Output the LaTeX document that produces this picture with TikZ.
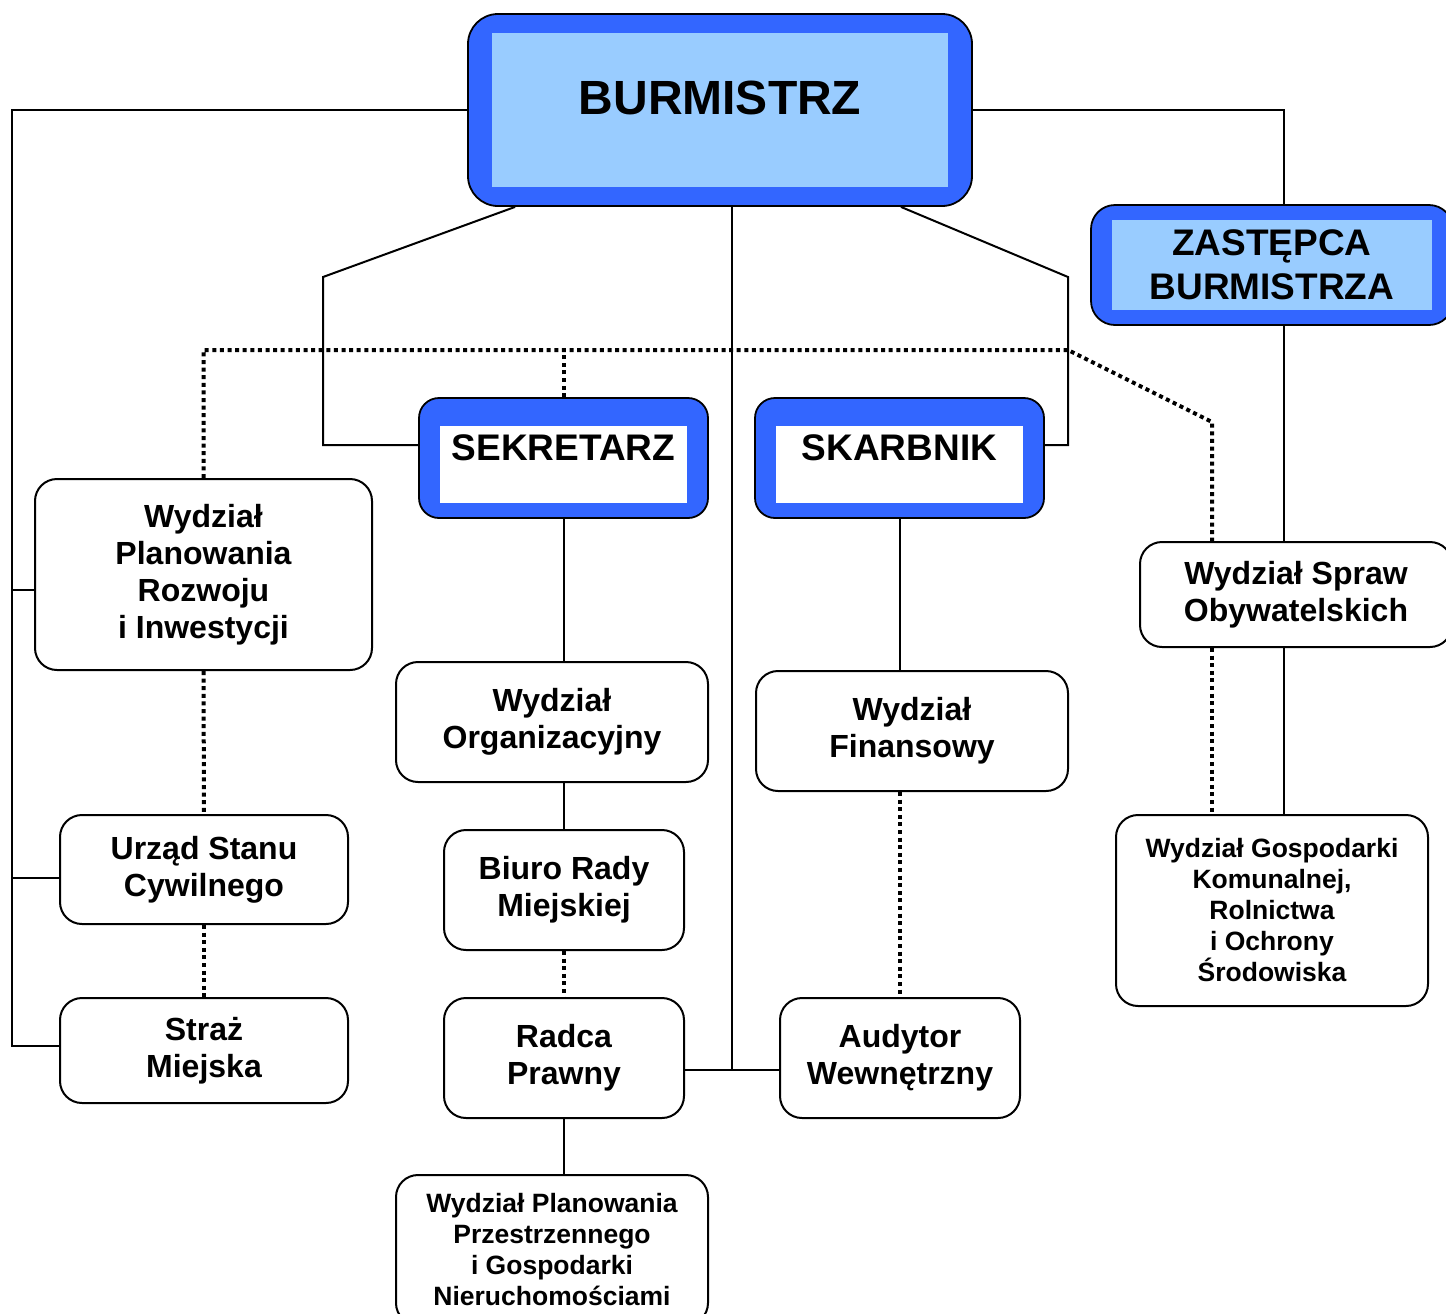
\documentclass[tikz,border=0pt]{standalone}
\usepackage{fontspec}
\setmainfont{Liberation Sans}
\usetikzlibrary{calc}
\definecolor{bossblue}{HTML}{3366FF}
\definecolor{bosslight}{HTML}{99CCFF}

\begin{document}
\begin{tikzpicture}[x=0.5pt, y=-0.5pt,
  link/.style={line width=1pt, black},
  dots/.style={line width=2pt, black, dash pattern=on 2pt off 1.8pt},
  bossbox/.style args={#1/#2/#3/#4}{draw=black, line width=0.9pt, fill=bossblue,
    inner sep=0pt, align=center,
    path picture={\fill[#4, sharp corners]
      ($(path picture bounding box.north west)+(#1,#2)$)
      rectangle ($(path picture bounding box.south east)+(-#1,-#3)$);}},
  bosslbl/.style={font=\bfseries\fontsize{18.5}{22}\selectfont, inner sep=0pt},
  wbox/.style={draw=black, line width=1pt, fill=white, rounded corners=11pt,
    align=center, inner sep=0pt, font=\bfseries\fontsize{16}{18.5}\selectfont},
  small/.style={font=\bfseries\fontsize{13.25}{15.5}\selectfont},
]
\clip (0,0) rectangle (1446,1313);
\fill[white] (0,0) rectangle (1446,1313);

% Kierownictwo
\node[bossbox={24/19/19/bosslight}, rounded corners=15pt,
  minimum width=252pt, minimum height=96pt] (burm) at (720,110) {};
\node[bosslbl, font=\bfseries\fontsize{24}{28}\selectfont] (burmlbl)
  at ($(burm)+(0,-12)$) {BURMISTRZ};

\node[bossbox={21/15/15/bosslight}, bosslbl, rounded corners=12pt,
  minimum width=181pt, minimum height=60pt] (zast) at (1272,265)
  {ZASTĘPCA\\BURMISTRZA};

\node[bossbox={21/28/15/white}, rounded corners=10pt,
  minimum width=144.5pt, minimum height=60pt] (sekr) at (563.5,458) {};
\node[bosslbl] (sekrlbl) at ($(sekr)+(0,-10)$) {SEKRETARZ};

\node[bossbox={21/28/15/white}, rounded corners=10pt,
  minimum width=144.5pt, minimum height=60pt] (skarb) at (899.5,458) {};
\node[bosslbl] (skarblbl) at ($(skarb)+(0,-10)$) {SKARBNIK};

% Komorki
\node[wbox, minimum width=168.5pt, minimum height=95.5pt] (wpri) at (203.5,574.5)
  {Wydział\\Planowania\\Rozwoju\\i Inwestycji};
\node[wbox, minimum width=144pt, minimum height=54.5pt] (usc) at (204,869.5)
  {Urząd Stanu\\Cywilnego};
\node[wbox, minimum width=144pt, minimum height=52.5pt] (straz) at (204,1050.5)
  {Straż\\Miejska};
\node[wbox, minimum width=156pt, minimum height=60pt] (worg) at (552,722)
  {Wydział\\Organizacyjny};
\node[wbox, minimum width=120pt, minimum height=60pt] (biuro) at (564,890)
  {Biuro Rady\\Miejskiej};
\node[wbox, minimum width=120pt, minimum height=60pt] (radca) at (564,1058)
  {Radca\\Prawny};
\node[wbox, small, minimum width=156pt, minimum height=75pt] (wppz) at (552,1250)
  {Wydział Planowania\\Przestrzennego\\i Gospodarki\\Nieruchomościami};
\node[wbox, minimum width=156pt, minimum height=60pt] (wfin) at (912,731)
  {Wydział\\Finansowy};
\node[wbox, minimum width=120pt, minimum height=60pt] (audyt) at (900,1058)
  {Audytor\\Wewnętrzny};
\node[wbox, minimum width=156pt, minimum height=52.5pt] (wso) at (1296,594.5)
  {Wydział Spraw\\Obywatelskich};
\node[wbox, small, minimum width=156pt, minimum height=95.5pt] (wgk) at (1272,910.5)
  {Wydział Gospodarki\\Komunalnej,\\Rolnictwa\\i Ochrony\\Środowiska};

% Punkty pomocnicze
\coordinate (ltrunk) at (12,0);
\coordinate (rtrunk) at (1284,0);
\coordinate (sekbend) at (323,277);
\coordinate (skbend) at (1068,277);
\coordinate (cjoin) at (732,1070);
\coordinate (dl) at (204,350);
\coordinate (dr) at (1068,350);
\coordinate (dd) at (1212,422);

% Linie podleglosci
\draw[link] (burm.west) -| ($(ltrunk |- straz.west)+(0,-4.5)$)
  -- ($(straz.west)+(0,-4.5)$);
\draw[link] ($(wpri.west)+(0,15.5)$) -- (ltrunk |- {$(wpri.west)+(0,15.5)$});
\draw[link] ($(usc.west)+(0,8.5)$) -- (ltrunk |- {$(usc.west)+(0,8.5)$});
\draw[link] (burm.east) -| (rtrunk |- zast.north);
\draw[link] (rtrunk |- zast.south) -- (rtrunk |- wso.north);
\draw[link] (rtrunk |- wso.south) -- (rtrunk |- wgk.north);
\draw[link] ($(burm.south west)+(48,0)$) -- (sekbend) |- ($(sekr.west)+(0,-13)$);
\draw[link] ($(burm.south east)+(-72,0)$) -- (skbend) |- ($(skarb.east)+(0,-13)$);
\draw[link] ($(burm.south)+(12,0)$) -- (cjoin);
\draw[link] ($(radca.east)+(0,12)$) -- ($(audyt.west)+(0,12)$);
\draw[link] (sekr.south) -- (sekr.south |- worg.north);
\draw[link] (biuro.north |- worg.south) -- (biuro.north);
\draw[link] (radca.south) -- (radca.south |- wppz.north);
\draw[link] (skarb.south) -- (skarb.south |- wfin.north);

% Linie wspolpracy
\draw[dots] (wpri.north) -- (wpri.north |- dl) -- (dr) -- (dd) -- (dd |- wso.north);
\draw[dots] (sekr.north) -- (sekr.north |- dl);
\draw[dots] (dd |- wso.south) -- (dd |- wgk.north);
\draw[dots] (wpri.south) -- (usc.north);
\draw[dots] (usc.south) -- (straz.north);
\draw[dots] (biuro.south) -- (radca.north);
\draw[dots] (audyt.north |- wfin.south) -- (audyt.north);
\end{tikzpicture}
\end{document}
